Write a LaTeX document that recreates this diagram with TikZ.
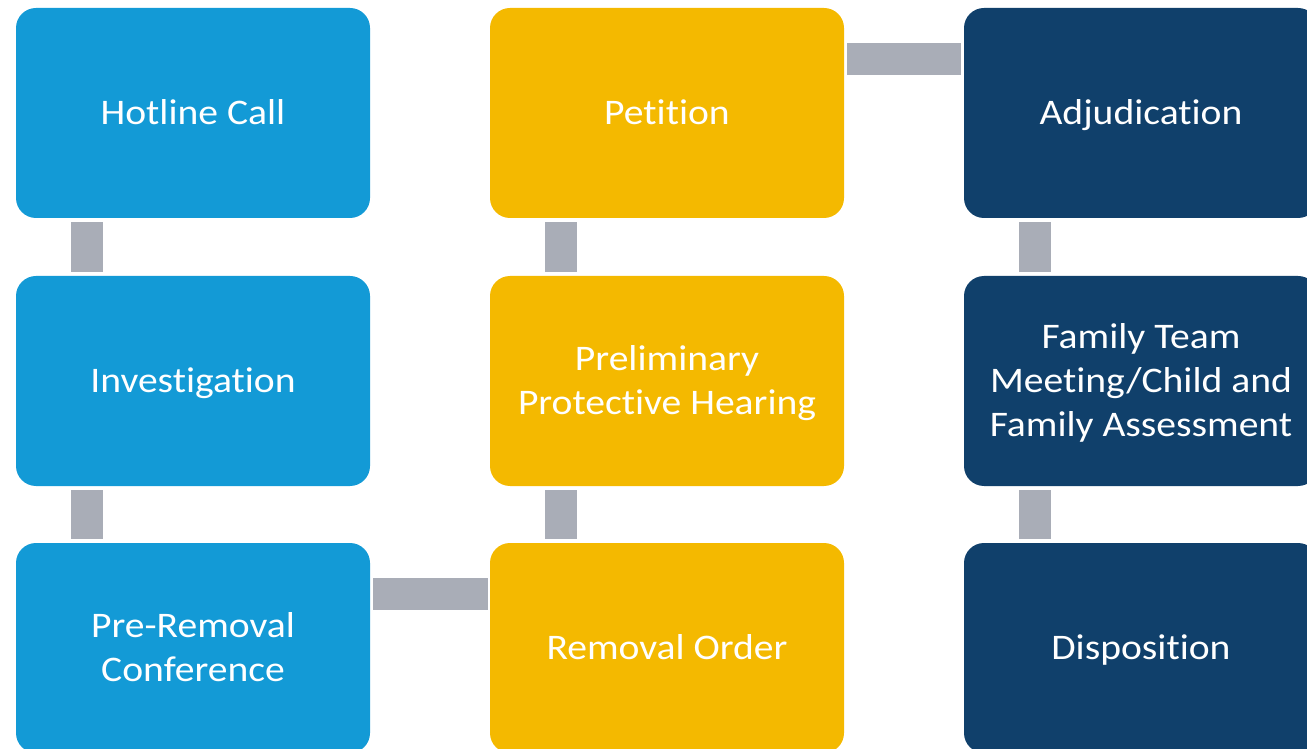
\documentclass[tikz,border=0pt]{standalone}
\usepackage{fontspec}
\setmainfont{Carlito}[FakeStretch=1.1, Ligatures=NoCommon]
\definecolor{cblue}{HTML}{139AD6}
\definecolor{cyellow}{HTML}{F4B900}
\definecolor{cnavy}{HTML}{10406B}
\definecolor{cgrey}{HTML}{A9ADB7}
\newcommand\lnstrut{\rule[-6.6pt]{0pt}{36.6pt}}
\begin{document}
\begin{tikzpicture}[x=1pt,y=1pt,
  box/.style={rounded corners=20pt, minimum width=354pt, minimum height=210pt,
    inner sep=0pt, text=white, align=center, font=\fontsize{36}{44}\selectfont},
  bluebox/.style={box, fill=cblue},
  yellowbox/.style={box, fill=cyellow},
  navybox/.style={box, fill=cnavy},
  conn/.style={draw=cgrey, line width=32pt}]
\useasboundingbox (0,0) rectangle (1307,748);
\clip (0,0) rectangle (1307,748);
\node[bluebox] (hot) at (193,635) {\lnstrut Hotline Call};
\node[bluebox] (inv) at (193,367) {\lnstrut Investigation};
\node[bluebox] (pre) at (193,100) {\lnstrut Pre-Removal\\\lnstrut Conference};
\node[yellowbox] (pet) at (667,635) {\lnstrut Petition};
\node[yellowbox] (pph) at (667,367) {\lnstrut Preliminary\\\lnstrut Protective Hearing};
\node[yellowbox] (rem) at (667,100) {\lnstrut Removal Order};
\node[navybox] (adj) at (1141,635) {\lnstrut Adjudication};
\node[navybox] (ftm) at (1141,367) {\lnstrut Family Team\\\lnstrut Meeting/Child and\\\lnstrut Family Assessment};
\node[navybox] (dis) at (1141,100) {\lnstrut Disposition};
\draw[conn] ([shift={(71pt,-4pt)}]hot.south west) -- ([shift={(71pt,4pt)}]inv.north west);
\draw[conn] ([shift={(71pt,-4pt)}]inv.south west) -- ([shift={(71pt,4pt)}]pre.north west);
\draw[conn] ([shift={(3pt,-51pt)}]pre.north east) -- ([shift={(-2pt,-51pt)}]rem.north west);
\draw[conn] ([shift={(71pt,4pt)}]rem.north west) -- ([shift={(71pt,-4pt)}]pph.south west);
\draw[conn] ([shift={(71pt,4pt)}]pph.north west) -- ([shift={(71pt,-4pt)}]pet.south west);
\draw[conn] ([shift={(3pt,-51pt)}]pet.north east) -- ([shift={(-3pt,-51pt)}]adj.north west);
\draw[conn] ([shift={(71pt,-4pt)}]adj.south west) -- ([shift={(71pt,4pt)}]ftm.north west);
\draw[conn] ([shift={(71pt,-4pt)}]ftm.south west) -- ([shift={(71pt,4pt)}]dis.north west);
\end{tikzpicture}
\end{document}
